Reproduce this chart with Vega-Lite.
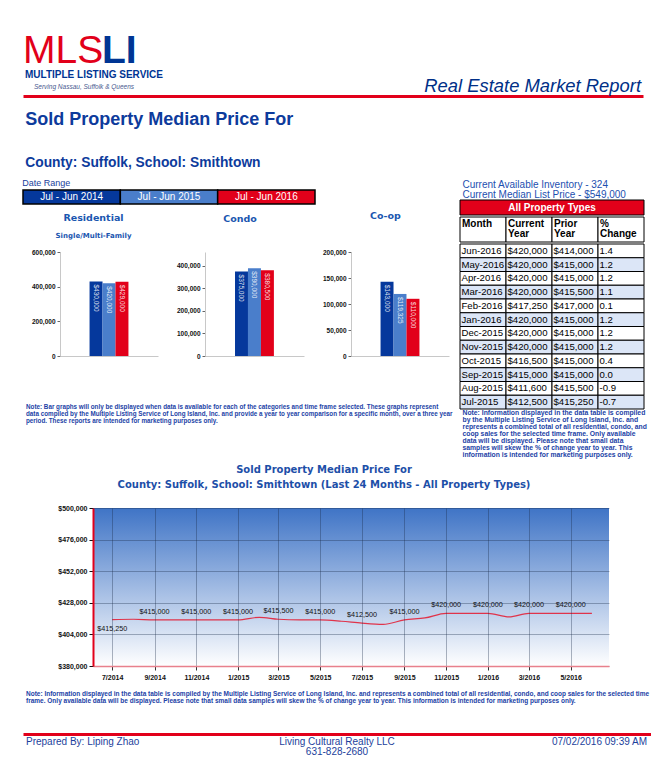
{
  "$schema": "https://vega.github.io/schema/vega-lite/v6.json",
  "background": "white",
  "padding": {"left": 22, "top": 32, "right": 0, "bottom": 0},
  "concat": [
    {
      "width": 620,
      "height": 26,
      "layer": [
        {
          "data": {"values": [{"text": "MLS"}]},
          "mark": {"type": "text", "font": "Liberation Sans", "fontSize": 39, "color": "#e2001a", "align": "left", "baseline": "alphabetic"},
          "encoding": {
            "x": {"datum": "brand", "type": "nominal", "scale": {"type": "point", "domain": ["brand", "report"], "padding": 0}, "axis": {"orient": "bottom", "labels": false, "ticks": false, "domainColor": "#e2001a", "domainWidth": 3, "offset": 7, "title": null}},
            "y": {"datum": "mark", "type": "nominal", "scale": {"type": "point", "domain": ["mark", "name", "tagline"], "padding": 0}, "axis": null},
            "text": {"field": "text"}
          }
        },
        {
          "data": {"values": [{"text": "LI"}]},
          "mark": {"type": "text", "font": "Liberation Sans", "fontSize": 39, "fontWeight": "bold", "color": "#003594", "align": "left", "baseline": "alphabetic", "dx": 79},
          "encoding": {
            "x": {"datum": "brand", "type": "nominal"},
            "y": {"datum": "mark", "type": "nominal"},
            "text": {"field": "text"}
          }
        },
        {
          "data": {"values": [{"text": "MULTIPLE LISTING SERVICE"}]},
          "mark": {"type": "text", "font": "Liberation Sans", "fontSize": 10, "fontWeight": "bold", "color": "#003594", "align": "left", "baseline": "alphabetic", "dx": 2, "dy": 1.5},
          "encoding": {
            "x": {"datum": "brand", "type": "nominal"},
            "y": {"datum": "name", "type": "nominal"},
            "text": {"field": "text"}
          }
        },
        {
          "data": {"values": [{"text": "Serving Nassau, Suffolk & Queens"}]},
          "mark": {"type": "text", "font": "Liberation Sans", "fontSize": 6.5, "fontStyle": "italic", "color": "#4a5a90", "align": "left", "baseline": "alphabetic", "dx": 11},
          "encoding": {
            "x": {"datum": "brand", "type": "nominal"},
            "y": {"datum": "tagline", "type": "nominal"},
            "text": {"field": "text"}
          }
        },
        {
          "data": {"values": [{"text": "Real Estate Market Report"}]},
          "mark": {"type": "text", "font": "Liberation Sans", "fontSize": 18.4, "fontStyle": "italic", "color": "#002f87", "align": "right", "baseline": "alphabetic", "dy": 3, "dx": -2},
          "encoding": {
            "x": {"datum": "report", "type": "nominal"},
            "y": {"datum": "tagline", "type": "nominal"},
            "text": {"field": "text"}
          }
        }
      ]
    },
    {
      "concat": [
        {
          "title": {"text": "Sold Property Median Price For", "subtitle": "County: Suffolk, School: Smithtown", "anchor": "start", "font": "Liberation Sans", "fontWeight": "bold", "fontSize": 18, "color": "#0d3b9c", "subtitleFont": "Liberation Sans", "subtitleFontWeight": "bold", "subtitleFontSize": 13.8, "subtitleColor": "#0d3b9c", "subtitlePadding": 27, "offset": 3, "dx": 3},
          "concat": [
            {
              "concat": [
                {"width": 1, "height": 1, "data": {"values": []}, "mark": "point", "encoding": {}},
                {
                  "width": 292,
                  "height": 14,
                  "data": {"name": "bars"},
                  "transform": [{"aggregate": [{"op": "count", "as": "n"}], "groupby": ["period"]}],
                  "title": {"text": "Date Range", "anchor": "start", "font": "Liberation Sans", "fontWeight": "normal", "fontSize": 9, "color": "#1a3f9c", "offset": 1},
                  "encoding": {
                    "x": {"field": "period", "type": "nominal", "scale": {"domain": ["Jul - Jun 2014", "Jul - Jun 2015", "Jul - Jun 2016"], "paddingInner": 0, "paddingOuter": 0}, "axis": null}
                  },
                  "layer": [
                    {
                      "mark": {"type": "rect", "stroke": "#000000", "strokeWidth": 1.5},
                      "encoding": {"color": {"field": "period", "type": "nominal", "scale": {"domain": ["Jul - Jun 2014", "Jul - Jun 2015", "Jul - Jun 2016"], "range": ["#05389c", "#4a7ecb", "#e2001a"]}, "legend": null}}
                    },
                    {
                      "mark": {"type": "text", "color": "#ffffff", "fontSize": 10, "baseline": "middle"},
                      "encoding": {"text": {"field": "period"}}
                    }
                  ]
                },
                {
                  "spacing": 5,
                  "title": {"text": ["Note: Bar graphs will only be displayed when data is available for each of the categories and time frame selected. These graphs represent", "data compiled by the Multiple Listing Service of Long Island, Inc. and provide a year to year comparison for a specific month, over a three year", "period. These reports are intended for marketing purposes only."], "orient": "bottom", "anchor": "start", "font": "Liberation Sans", "fontWeight": "bold", "fontSize": 6.3, "lineHeight": 7, "color": "#1b3fa6", "offset": 44, "dx": 3},
                  "hconcat": [
                    {"width": 1, "height": 1, "data": {"values": []}, "mark": "point", "encoding": {}},
                    {
                      "spacing": 18,
                      "hconcat": [
                        {
                          "width": 98,
                          "height": 104,
                          "data": {"name": "bars"},
                          "transform": [{"filter": "datum.type === 'Residential'"}],
                          "title": {"text": "Residential", "subtitle": "Single/Multi-Family", "fontSize": 9.5, "subtitleFont": "DejaVu Sans", "subtitleFontWeight": "bold", "subtitleFontSize": 7, "subtitleColor": "#1a56b0", "subtitlePadding": 10, "offset": 10, "anchor": "middle", "frame": "bounds"},
                          "encoding": {
                            "x": {"field": "type", "type": "nominal", "scale": {"paddingInner": 0, "paddingOuter": 0.76}, "axis": {"labels": false, "ticks": false, "title": null, "domainColor": "#c8c8c8"}},
                            "xOffset": {"field": "period", "type": "nominal", "scale": {"domain": ["Jul - Jun 2014", "Jul - Jun 2015", "Jul - Jun 2016"], "paddingInner": 0, "paddingOuter": 0}},
                            "y": {"field": "price", "type": "quantitative", "scale": {"domain": [0, 600000], "nice": false}, "axis": {"values": [0, 200000, 400000, 600000], "tickCount": 10, "format": ",d", "title": null, "minExtent": 31}}
                          },
                          "layer": [
                            {"mark": {"type": "bar"}, "encoding": {"color": {"field": "period", "type": "nominal", "scale": {"domain": ["Jul - Jun 2014", "Jul - Jun 2015", "Jul - Jun 2016"], "range": ["#05389c", "#4a7ecb", "#e2001a"]}, "legend": null}}},
                            {"mark": {"type": "text", "angle": 90, "align": "left", "baseline": "middle", "dx": 3, "fontSize": 6.5, "color": "#ffffff", "opacity": 0.85}, "encoding": {"text": {"field": "price", "type": "quantitative", "format": "$,d"}}}
                          ]
                        },
                        {
                          "width": 99,
                          "height": 104,
                          "data": {"name": "bars"},
                          "transform": [{"filter": "datum.type === 'Condo'"}],
                          "title": {"text": "Condo", "fontSize": 9.5, "offset": 29, "anchor": "middle", "frame": "bounds"},
                          "encoding": {
                            "x": {"field": "type", "type": "nominal", "scale": {"paddingInner": 0, "paddingOuter": 0.77}, "axis": {"labels": false, "ticks": false, "title": null, "domainColor": "#c8c8c8"}},
                            "xOffset": {"field": "period", "type": "nominal", "scale": {"domain": ["Jul - Jun 2014", "Jul - Jun 2015", "Jul - Jun 2016"], "paddingInner": 0, "paddingOuter": 0}},
                            "y": {"field": "price", "type": "quantitative", "scale": {"domain": [0, 462000], "nice": false}, "axis": {"values": [0, 100000, 200000, 300000, 400000], "tickCount": 10, "format": ",d", "title": null, "minExtent": 29}}
                          },
                          "layer": [
                            {"mark": {"type": "bar"}, "encoding": {"color": {"field": "period", "type": "nominal", "scale": {"domain": ["Jul - Jun 2014", "Jul - Jun 2015", "Jul - Jun 2016"], "range": ["#05389c", "#4a7ecb", "#e2001a"]}, "legend": null}}},
                            {"mark": {"type": "text", "angle": 90, "align": "left", "baseline": "middle", "dx": 3, "fontSize": 6.5, "color": "#ffffff", "opacity": 0.85}, "encoding": {"text": {"field": "price", "type": "quantitative", "format": "$,d"}}}
                          ]
                        },
                        {
                          "width": 98,
                          "height": 104,
                          "data": {"name": "bars"},
                          "transform": [{"filter": "datum.type === 'Co-op'"}],
                          "title": {"text": "Co-op", "fontSize": 9.5, "offset": 29, "anchor": "middle", "frame": "bounds"},
                          "encoding": {
                            "x": {"field": "type", "type": "nominal", "scale": {"paddingInner": 0, "paddingOuter": 0.76}, "axis": {"labels": false, "ticks": false, "title": null, "domainColor": "#c8c8c8"}},
                            "xOffset": {"field": "period", "type": "nominal", "scale": {"domain": ["Jul - Jun 2014", "Jul - Jun 2015", "Jul - Jun 2016"], "paddingInner": 0, "paddingOuter": 0}},
                            "y": {"field": "price", "type": "quantitative", "scale": {"domain": [0, 200000], "nice": false}, "axis": {"values": [0, 50000, 100000, 150000, 200000], "tickCount": 10, "format": ",d", "title": null, "minExtent": 29}}
                          },
                          "layer": [
                            {"mark": {"type": "bar"}, "encoding": {"color": {"field": "period", "type": "nominal", "scale": {"domain": ["Jul - Jun 2014", "Jul - Jun 2015", "Jul - Jun 2016"], "range": ["#05389c", "#4a7ecb", "#e2001a"]}, "legend": null}}},
                            {"mark": {"type": "text", "angle": 90, "align": "left", "baseline": "middle", "dx": 3, "fontSize": 6.5, "color": "#ffffff", "opacity": 0.85}, "encoding": {"text": {"field": "price", "type": "quantitative", "format": "$,d"}}}
                          ]
                        }
                      ]
                    }
                  ]
                }
              ],
              "columns": 1,
              "spacing": 5
            },
            {
              "title": {"text": ["Note: Information displayed in the data table is compiled", "by the Multiple  Listing Service of Long Island, Inc. and", "represents a combined total of all residential, condo, and", "coop sales for the selected time frame. Only available", "data will be displayed. Please note that small data", "samples will skew the % of change year to year. This", "information is intended for marketing purposes only."], "orient": "bottom", "anchor": "start", "font": "Liberation Sans", "fontWeight": "bold", "fontSize": 6.8, "lineHeight": 7, "color": "#1b3fa6", "offset": 0, "dx": 3},
              "concat": [
                {"width": 1, "height": 1, "data": {"values": []}, "mark": "point", "encoding": {}},
                {
                  "spacing": 0,
                  "title": {"text": ["Current Available Inventory - 324", "Current Median List Price - $549,000"], "anchor": "start", "font": "Liberation Sans", "fontWeight": "normal", "fontSize": 10, "lineHeight": 10, "color": "#1d4fb0", "offset": 0, "dx": 3},
                  "vconcat": [
                    {
                      "width": 184,
                      "height": 15,
                      "data": {"values": [{"label": "All Property Types"}]},
                      "layer": [
                        {"mark": {"type": "rect", "fill": "#e2001a", "stroke": "#000000", "strokeWidth": 1}, "encoding": {}},
                        {"mark": {"type": "text", "color": "#ffffff", "fontWeight": "bold", "fontSize": 10, "baseline": "middle"}, "encoding": {"text": {"field": "label"}}}
                      ]
                    },
                    {
                      "width": 184,
                      "height": 25,
                      "data": {"values": [{"key": "month", "label": "Month"}, {"key": "current", "label": "Current Year"}, {"key": "prior", "label": "Prior Year"}, {"key": "change", "label": "% Change"}]},
                      "encoding": {
                        "x": {"field": "key", "type": "nominal", "scale": {"domain": ["month", "current", "prior", "change"], "paddingInner": 0, "paddingOuter": 0}, "axis": null}
                      },
                      "layer": [
                        {"mark": {"type": "rect", "fill": "#ffffff", "stroke": "#000000", "strokeWidth": 1}},
                        {"mark": {"type": "text", "align": "left", "baseline": "top", "dx": 2, "dy": -10.5, "lineBreak": " ", "fontWeight": "bold", "fontSize": 10, "lineHeight": 10, "color": "#000000"}, "encoding": {"x": {"field": "key", "type": "nominal", "bandPosition": 0, "axis": null}, "text": {"field": "label"}}}
                      ]
                    },
                    {
                      "width": 184,
                      "height": 165,
                      "data": {"name": "table"},
                      "transform": [{"window": [{"op": "row_number", "as": "rn"}]}, {"fold": ["month", "current", "prior", "change"]}],
                      "encoding": {
                        "x": {"field": "key", "type": "nominal", "scale": {"domain": ["month", "current", "prior", "change"], "paddingInner": 0, "paddingOuter": 0}, "axis": null},
                        "y": {"field": "month", "type": "nominal", "sort": null, "scale": {"paddingInner": 0, "paddingOuter": 0}, "axis": null}
                      },
                      "layer": [
                        {"mark": {"type": "rect", "stroke": "#000000", "strokeWidth": 1}, "encoding": {"fill": {"condition": {"test": "datum.rn % 2 === 0", "value": "#dce6f7"}, "value": "#ffffff"}}},
                        {"transform": [{"filter": "datum.key === 'month'"}], "mark": {"type": "text", "align": "left", "baseline": "middle", "dx": 1.5, "fontSize": 9.6, "color": "#000000"}, "encoding": {"x": {"field": "key", "type": "nominal", "bandPosition": 0, "axis": null}, "text": {"field": "value", "type": "nominal"}}},
                        {"transform": [{"filter": "datum.key === 'current' || datum.key === 'prior'"}], "mark": {"type": "text", "align": "left", "baseline": "middle", "dx": 1.5, "fontSize": 9.6, "color": "#000000"}, "encoding": {"x": {"field": "key", "type": "nominal", "bandPosition": 0, "axis": null}, "text": {"field": "value", "type": "quantitative", "format": "$,d"}}},
                        {"transform": [{"filter": "datum.key === 'change'"}], "mark": {"type": "text", "align": "left", "baseline": "middle", "dx": 1.5, "fontSize": 9.6, "color": "#000000"}, "encoding": {"x": {"field": "key", "type": "nominal", "bandPosition": 0, "axis": null}, "text": {"field": "value", "type": "quantitative", "format": ".1f"}}}
                      ]
                    }
                  ]
                }
              ],
              "columns": 1,
              "spacing": 5
            }
          ],
          "columns": 2,
          "spacing": 6
        },
        {
          "spacing": 6,
          "hconcat": [
            {"width": 24, "height": 1, "data": {"values": []}, "mark": "point", "encoding": {}},
            {
              "width": 516,
              "height": 158,
              "title": {"text": ["Sold Property Median Price For", "County: Suffolk, School: Smithtown (Last 24 Months - All Property Types)"], "anchor": "middle", "frame": "group", "dx": -27, "fontSize": 10, "lineHeight": 15, "color": "#1d4fa8", "offset": 14},
              "data": {"name": "months"},
              "layer": [
                {
                  "data": {"values": [{}]},
                  "mark": {"type": "rect", "fill": {"gradient": "linear", "x1": 0, "y1": 0, "x2": 0, "y2": 1, "stops": [{"offset": 0, "color": "#3f74c6"}, {"offset": 1, "color": "#ffffff"}]}},
                  "encoding": {}
                },
                {
                  "mark": {"type": "line", "color": "#e0334a", "strokeWidth": 1.2, "interpolate": "monotone"},
                  "encoding": {
                    "x": {"field": "date", "type": "temporal", "scale": {"type": "utc", "domain": [{"year": 2014, "month": 6, "date": 3, "utc": true}, {"year": 2016, "month": 6, "date": 26, "utc": true}]},
                      "axis": {"title": null, "labelExpr": "utcFormat(datum.value, '%-m/%Y')",
                        "values": [{"year": 2014, "month": 7, "date": 1, "utc": true}, {"year": 2014, "month": 9, "date": 1, "utc": true}, {"year": 2014, "month": 11, "date": 1, "utc": true}, {"year": 2015, "month": 1, "date": 1, "utc": true}, {"year": 2015, "month": 3, "date": 1, "utc": true}, {"year": 2015, "month": 5, "date": 1, "utc": true}, {"year": 2015, "month": 7, "date": 1, "utc": true}, {"year": 2015, "month": 9, "date": 1, "utc": true}, {"year": 2015, "month": 11, "date": 1, "utc": true}, {"year": 2016, "month": 1, "date": 1, "utc": true}, {"year": 2016, "month": 3, "date": 1, "utc": true}, {"year": 2016, "month": 5, "date": 1, "utc": true}],
                        "tickCount": 20, "grid": true, "gridColor": "#1a2a48", "gridOpacity": 0.35, "domainColor": "#e8808c", "domainWidth": 1.5, "tickColor": "#333333", "tickSize": 4, "labelFontSize": 7, "labelPadding": 3, "labelFlush": false, "labelOverlap": false, "minExtent": 18, "zindex": 1}},
                    "y": {"field": "price", "type": "quantitative", "scale": {"domain": [380000, 500000], "nice": false, "zero": false},
                      "axis": {"title": null, "values": [380000, 404000, 428000, 452000, 476000, 500000], "tickCount": 10, "format": "$,d", "grid": true, "gridColor": "#1a2a48", "gridOpacity": 0.35, "domainColor": "#e2001a", "domainWidth": 2, "tickColor": "#111111", "tickSize": 4, "labelFontSize": 7, "labelOverlap": false, "labelFlush": false, "minExtent": 40, "zindex": 1}}
                  }
                },
                {
                  "transform": [{"filter": "utcmonth(toDate(datum.date)) % 2 === 0 && toDate(datum.date) > toDate('2014-07-02')"}],
                  "mark": {"type": "text", "dy": -8, "fontSize": 7.2, "color": "#111111"},
                  "encoding": {
                    "x": {"field": "date", "type": "temporal"},
                    "y": {"field": "price", "type": "quantitative"},
                    "text": {"field": "price", "type": "quantitative", "format": "$,d"}
                  }
                },
                {
                  "transform": [{"filter": "toDate(datum.date) < toDate('2014-07-02')"}],
                  "mark": {"type": "text", "dy": 9, "fontSize": 7.2, "color": "#111111"},
                  "encoding": {
                    "x": {"field": "date", "type": "temporal"},
                    "y": {"field": "price", "type": "quantitative"},
                    "text": {"field": "price", "type": "quantitative", "format": "$,d"}
                  }
                }
              ]
            }
          ]
        },
        {
          "width": 628,
          "height": 10,
          "title": {"text": ["Note: Information displayed in the data table is compiled by the Multiple  Listing Service of Long Island, Inc. and represents a combined total of all residential, condo, and coop sales for the selected time", "frame. Only available data will be displayed. Please note that small data samples will skew the % of change year to year. This information is intended for marketing purposes only."], "anchor": "start", "orient": "top", "font": "Liberation Sans", "fontWeight": "bold", "fontSize": 6.5, "lineHeight": 7, "color": "#1b3fa6", "offset": 30, "dx": 3},
          "data": {"values": [{"line": "1", "preparer": "Prepared By: Liping Zhao", "office": "Living Cultural Realty LLC", "printed": "07/02/2016 09:39 AM"}, {"line": "2", "office": "631-828-2680"}]},
          "layer": [
            {
              "transform": [{"filter": "isValid(datum.preparer)"}],
              "mark": {"type": "text", "align": "left", "baseline": "alphabetic", "fontSize": 10, "color": "#1d3f9c", "dx": 3},
              "encoding": {
                "x": {"datum": "preparer", "type": "nominal", "scale": {"type": "point", "domain": ["preparer", "office", "printed"], "padding": 0}, "axis": {"orient": "top", "labels": false, "ticks": false, "domainColor": "#e2001a", "domainWidth": 3, "offset": 11, "title": null}},
                "y": {"field": "line", "type": "nominal", "scale": {"type": "point", "domain": ["1", "2"], "padding": 0}, "axis": null},
                "text": {"field": "preparer"}
              }
            },
            {
              "mark": {"type": "text", "align": "center", "baseline": "alphabetic", "fontSize": 10, "color": "#1d3f9c"},
              "encoding": {
                "x": {"datum": "office", "type": "nominal"},
                "y": {"field": "line", "type": "nominal"},
                "text": {"field": "office"}
              }
            },
            {
              "transform": [{"filter": "isValid(datum.printed)"}],
              "mark": {"type": "text", "align": "right", "baseline": "alphabetic", "fontSize": 10, "color": "#1d3f9c", "dx": -4},
              "encoding": {
                "x": {"datum": "printed", "type": "nominal"},
                "y": {"field": "line", "type": "nominal"},
                "text": {"field": "printed"}
              }
            }
          ]
        }
      ],
      "columns": 1,
      "spacing": 6
    }
  ],
  "columns": 1,
  "spacing": 15,
  "config": {
    "view": {"stroke": null},
    "font": "Liberation Sans",
    "axis": {"labelFont": "Liberation Sans", "labelFontWeight": "bold", "labelFontSize": 6.5, "labelColor": "#111111", "tickColor": "#666666", "tickSize": 3, "domainColor": "#c8c8c8", "grid": false, "labelPadding": 2},
    "title": {"font": "DejaVu Sans", "fontWeight": "bold", "color": "#1a56b0"},
    "locale": {"number": {"decimal": ".", "thousands": ",", "grouping": [3], "currency": ["$", ""], "minus": "-"}}
  },
  "datasets": {
    "bars": [
      {"type": "Residential", "period": "Jul - Jun 2014", "price": 430000},
      {"type": "Residential", "period": "Jul - Jun 2015", "price": 420000},
      {"type": "Residential", "period": "Jul - Jun 2016", "price": 429000},
      {"type": "Condo", "period": "Jul - Jun 2014", "price": 375000},
      {"type": "Condo", "period": "Jul - Jun 2015", "price": 390000},
      {"type": "Condo", "period": "Jul - Jun 2016", "price": 380500},
      {"type": "Co-op", "period": "Jul - Jun 2014", "price": 143000},
      {"type": "Co-op", "period": "Jul - Jun 2015", "price": 119325},
      {"type": "Co-op", "period": "Jul - Jun 2016", "price": 110000}
    ],
    "table": [
      {"month": "Jun-2016", "current": 420000, "prior": 414000, "change": 1.4},
      {"month": "May-2016", "current": 420000, "prior": 415000, "change": 1.2},
      {"month": "Apr-2016", "current": 420000, "prior": 415000, "change": 1.2},
      {"month": "Mar-2016", "current": 420000, "prior": 415500, "change": 1.1},
      {"month": "Feb-2016", "current": 417250, "prior": 417000, "change": 0.1},
      {"month": "Jan-2016", "current": 420000, "prior": 415000, "change": 1.2},
      {"month": "Dec-2015", "current": 420000, "prior": 415000, "change": 1.2},
      {"month": "Nov-2015", "current": 420000, "prior": 415000, "change": 1.2},
      {"month": "Oct-2015", "current": 416500, "prior": 415000, "change": 0.4},
      {"month": "Sep-2015", "current": 415000, "prior": 415000, "change": 0.0},
      {"month": "Aug-2015", "current": 411600, "prior": 415500, "change": -0.9},
      {"month": "Jul-2015", "current": 412500, "prior": 415250, "change": -0.7}
    ],
    "months": [
      {"date": "2014-07-01", "price": 415250},
      {"date": "2014-08-01", "price": 415500},
      {"date": "2014-09-01", "price": 415000},
      {"date": "2014-10-01", "price": 415000},
      {"date": "2014-11-01", "price": 415000},
      {"date": "2014-12-01", "price": 415000},
      {"date": "2015-01-01", "price": 415000},
      {"date": "2015-02-01", "price": 417000},
      {"date": "2015-03-01", "price": 415500},
      {"date": "2015-04-01", "price": 415000},
      {"date": "2015-05-01", "price": 415000},
      {"date": "2015-06-01", "price": 414000},
      {"date": "2015-07-01", "price": 412500},
      {"date": "2015-08-01", "price": 411600},
      {"date": "2015-09-01", "price": 415000},
      {"date": "2015-10-01", "price": 416500},
      {"date": "2015-11-01", "price": 420000},
      {"date": "2015-12-01", "price": 420000},
      {"date": "2016-01-01", "price": 420000},
      {"date": "2016-02-01", "price": 417250},
      {"date": "2016-03-01", "price": 420000},
      {"date": "2016-04-01", "price": 420000},
      {"date": "2016-05-01", "price": 420000},
      {"date": "2016-06-01", "price": 420000}
    ]
  }
}
